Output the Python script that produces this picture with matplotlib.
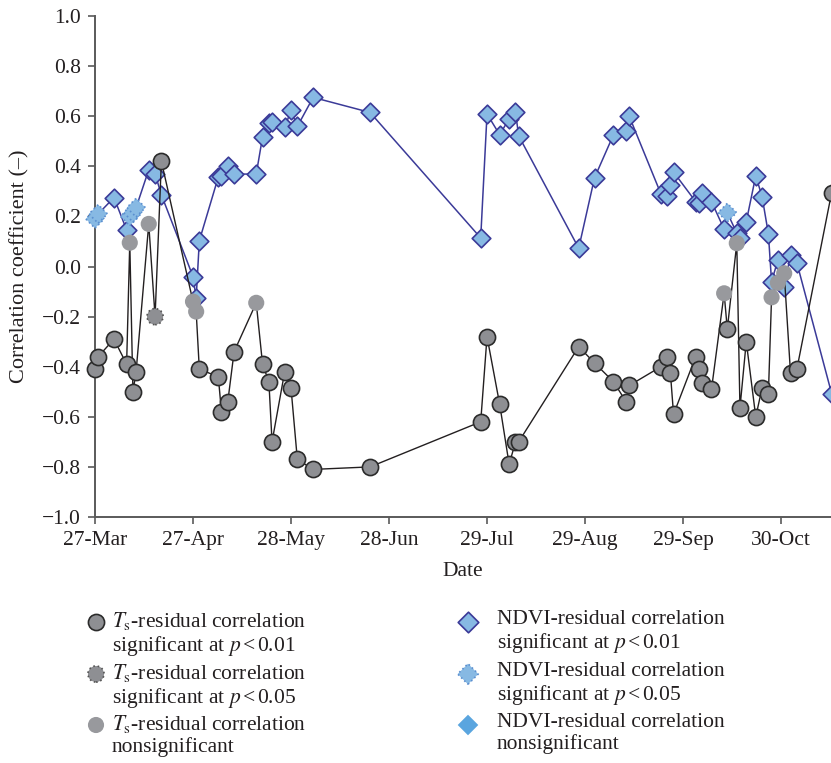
import matplotlib
matplotlib.use("Agg")
import matplotlib.pyplot as plt
import numpy as np

plt.rcParams["font.family"] = ["Liberation Serif", "DejaVu Serif"]
plt.rcParams["mathtext.fontset"] = "stix"

# Observation dates, as days after 27 March
days = [0, 1, 6, 10, 11, 12, 13, 17, 19, 21, 31, 32, 33, 39, 40, 42, 44,
        51, 53, 55, 56, 60, 62, 64, 69, 87, 122, 124, 128, 131, 133, 134,
        153, 158, 164, 168, 169, 179, 181, 182, 183, 190, 191, 192, 195,
        199, 200, 203, 204, 206, 209, 211, 213, 214, 216, 218, 220, 222, 233]

# Ts-residual correlation and its significance class
ts_r = [-0.41, -0.36, -0.29, -0.39, 0.095, -0.50, -0.42, 0.17, -0.20, 0.42,
        -0.14, -0.18, -0.41, -0.44, -0.58, -0.54, -0.34,
        -0.145, -0.39, -0.46, -0.70, -0.42, -0.485, -0.77, -0.81, -0.80,
        -0.62, -0.28, -0.55, -0.79, -0.70, -0.70,
        -0.32, -0.385, -0.46, -0.54, -0.475, -0.40, -0.36, -0.425, -0.59,
        -0.36, -0.41, -0.465, -0.49,
        -0.107, -0.25, 0.093, -0.565, -0.30, -0.60, -0.485, -0.507, -0.123,
        -0.065, -0.027, -0.427, -0.41, 0.295]
ts_sig = ["p01", "p01", "p01", "p01", "ns", "p01", "p01", "ns", "p05", "p01",
          "ns", "ns", "p01", "p01", "p01", "p01", "p01",
          "ns", "p01", "p01", "p01", "p01", "p01", "p01", "p01", "p01",
          "p01", "p01", "p01", "p01", "p01", "p01",
          "p01", "p01", "p01", "p01", "p01", "p01", "p01", "p01", "p01",
          "p01", "p01", "p01", "p01",
          "ns", "p01", "ns", "p01", "p01", "p01", "p01", "p01", "ns",
          "ns", "ns", "p01", "p01", "p01"]

# NDVI-residual correlation and its significance class
ndvi_r = [0.19, 0.21, 0.275, 0.146, 0.20, 0.215, 0.235, 0.386, 0.37, 0.286,
          -0.04, -0.127, 0.103, 0.357, 0.362, 0.40, 0.369,
          0.369, 0.517, 0.573, 0.577, 0.555, 0.623, 0.559, 0.675, 0.615,
          0.114, 0.609, 0.526, 0.59, 0.617, 0.522,
          0.073, 0.354, 0.526, 0.539, 0.599, 0.29, 0.28, 0.326, 0.377,
          0.259, 0.255, 0.293, 0.259,
          0.149, 0.215, 0.133, 0.113, 0.179, 0.362, 0.279, 0.13, -0.061,
          0.026, -0.081, 0.046, 0.015, -0.507]
ndvi_sig = ["p05", "p05", "p01", "p01", "p05", "p05", "p05", "p01", "p01", "p01",
            "p01", "p01", "p01", "p01", "p01", "p01", "p01",
            "p01", "p01", "p01", "p01", "p01", "p01", "p01", "p01", "p01",
            "p01", "p01", "p01", "p01", "p01", "p01",
            "p01", "p01", "p01", "p01", "p01", "p01", "p01", "p01", "p01",
            "p01", "p01", "p01", "p01",
            "p01", "p05", "p01", "p01", "p01", "p01", "p01", "p01", "p01",
            "p01", "p01", "p01", "p01", "p01"]

tick_days = [0, 31, 62, 93, 124, 155, 186, 217]
tick_labels = ["27-Mar", "27-Apr", "28-May", "28-Jun", "29-Jul", "29-Aug",
               "29-Sep", "30-Oct"]
y_ticks = [-1.0, -0.8, -0.6, -0.4, -0.2, 0.0, 0.2, 0.4, 0.6, 0.8, 1.0]

TXT = "#231f20"
AXC = "#5a5a5a"
TS_LINE = "#231f20"
TS_FILL = "#8e8f93"
TS_NS_FILL = "#98999d"
ND_LINE = "#3b3a98"
ND_FILL = "#87b9e3"
ND_NS_FILL = "#5aa5df"
FS = 15.5

ts_style = {
    "p01": dict(marker="o", s=135, facecolor=TS_FILL, edgecolor="#2b2b2b", linewidths=1.2, linestyle="-"),
    "p05": dict(marker="o", s=135, facecolor=TS_FILL, edgecolor="#555555", linewidths=1.2, linestyle=":"),
    "ns": dict(marker="o", s=135, facecolor=TS_NS_FILL, edgecolor="none", linewidths=0),
}
nd_style = {
    "p01": dict(marker="D", s=90, facecolor=ND_FILL, edgecolor=ND_LINE, linewidths=1.2, linestyle="-"),
    "p05": dict(marker="D", s=90, facecolor=ND_FILL, edgecolor="#5b8fd0", linewidths=1.2, linestyle=":"),
    "ns": dict(marker="D", s=90, facecolor=ND_NS_FILL, edgecolor="none", linewidths=0),
}

W, H = 831, 763
fig = plt.figure(figsize=(W / 100, H / 100), dpi=100)
ax = fig.add_axes([95 / W, 1 - 517 / H, (W - 95) / W, (517 - 16) / H])

x = np.array(days, dtype=float)
ts = np.array(ts_r)
nd = np.array(ndvi_r)

# NDVI series first, Ts series on top
ax.plot(x, nd, color=ND_LINE, lw=1.1, zorder=2, clip_on=False)
for cls, st in nd_style.items():
    m = np.array([c == cls for c in ndvi_sig])
    if m.any():
        ax.scatter(x[m], nd[m], zorder=3, clip_on=False, **st)

ax.plot(x, ts, color=TS_LINE, lw=1.0, zorder=4, clip_on=False)
for cls, st in ts_style.items():
    m = np.array([c == cls for c in ts_sig])
    if m.any():
        ax.scatter(x[m], ts[m], zorder=5, clip_on=False, **st)

ax.set_xlim(0, 232.8)
ax.set_ylim(-1.0, 1.0)
ax.set_xticks(tick_days)
ax.set_xticklabels(tick_labels)
ax.set_yticks(y_ticks)
ax.set_yticklabels([f"{v:.1f}".replace("-", "\u2212") for v in y_ticks])
for side in ("top", "right"):
    ax.spines[side].set_visible(False)
for side in ("left", "bottom"):
    ax.spines[side].set_color(AXC)
    ax.spines[side].set_linewidth(1.4)
ax.tick_params(axis="both", direction="out", length=5, width=1.2, color=AXC,
               labelsize=FS, labelcolor=TXT, pad=5)
ax.set_xlabel("Date", fontsize=FS, color=TXT, labelpad=9)
ax.set_ylabel("Correlation coefficient (\u2013)", fontsize=16, color=TXT, labelpad=9)

# Legend panel below the plot
lg = fig.add_axes([0, 0, 1, 1], zorder=-1)
lg.set_xlim(0, W)
lg.set_ylim(H, 0)
lg.axis("off")

left_labels = [
    "$T_{\\mathrm{s}}$-residual correlation\nsignificant at $p\\,$<$\\,$0.01",
    "$T_{\\mathrm{s}}$-residual correlation\nsignificant at $p\\,$<$\\,$0.05",
    "$T_{\\mathrm{s}}$-residual correlation\nnonsignificant",
]
right_labels = [
    "NDVI-residual correlation\nsignificant at $p\\,$<$\\,$0.01",
    "NDVI-residual correlation\nsignificant at $p\\,$<$\\,$0.05",
    "NDVI-residual correlation\nnonsignificant",
]
row_y = [622, 674, 725]
for yy, lab, cls in zip(row_y, left_labels, ["p01", "p05", "ns"]):
    lg.scatter([96], [yy], **ts_style[cls])
    lg.text(112, yy - 12, lab, fontsize=FS, color=TXT, va="top", ha="left",
            linespacing=1.13)
for yy, lab, cls in zip(row_y, right_labels, ["p01", "p05", "ns"]):
    st = dict(nd_style[cls])
    st["s"] = 110
    lg.scatter([468], [yy], **st)
    lg.text(497, yy - 12, lab, fontsize=FS, color=TXT, va="top", ha="left",
            linespacing=1.13)

fig.savefig("out.png", dpi=100)
